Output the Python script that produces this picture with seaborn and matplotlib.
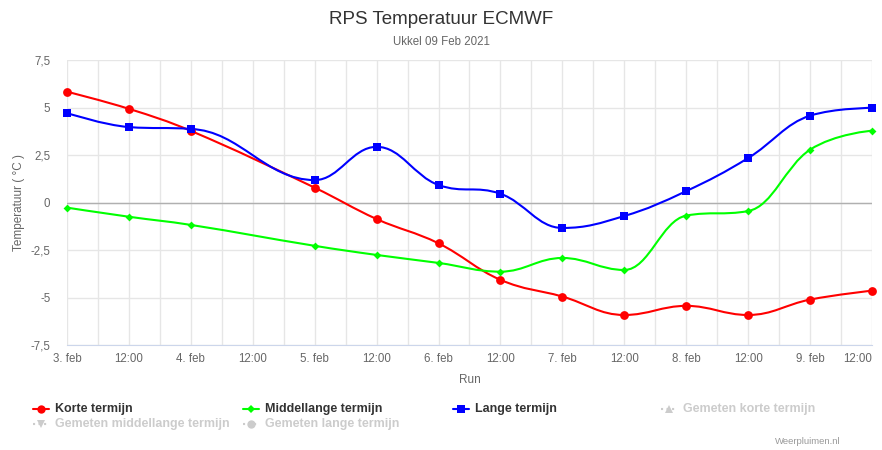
import numpy as np
import pandas as pd
import seaborn as sns
import matplotlib.pyplot as plt
from matplotlib.path import Path
from matplotlib.patches import PathPatch
from matplotlib.lines import Line2D

# Data, 12-hourly runs from 3 feb 00:00
hours = [0, 12, 24, 36, 48, 60, 72, 84, 96, 108, 120, 132, 144, 156]
tick_labels = ["3. feb", "12:00", "4. feb", "12:00", "5. feb", "12:00", "6. feb",
               "12:00", "7. feb", "12:00", "8. feb", "12:00", "9. feb", "12:00"]
korte = [5.83, 4.93, 3.77, None, 0.78, -0.87, -2.15, -4.07, -4.95, -5.92, -5.44, -5.92, -5.11, -4.64]
middel = [-0.27, -0.75, -1.18, None, -2.28, -2.76, -3.18, -3.64, -2.92, -3.55, -0.69, -0.45, 2.78, 3.78]
lange = [4.71, 3.97, 3.87, None, 1.18, 2.93, 0.92, 0.46, -1.34, -0.71, 0.60, 2.34, 4.57, 4.98]

y_ticks = [-7.5, -5, -2.5, 0, 2.5, 5, 7.5]
y_tick_labels = ["-7,5", "-5", "-2,5", "0", "2,5", "5", "7,5"]

series = [
    ("Korte termijn", korte, "#ff0000", "o", 40),
    ("Middellange termijn", middel, "#00ff00", "D", 16),
    ("Lange termijn", lange, "#0000ff", "s", 40),
]
hidden = [("Gemeten korte termijn", "^"), ("Gemeten middellange termijn", "v"),
          ("Gemeten lange termijn", "o")]

sns.set_style("white")
plt.rcParams["font.family"] = ["Liberation Sans", "DejaVu Sans"]


def spline_path(xs, ys, smoothing=1.5):
    # Highcharts-style spline: cubic bezier control points per segment
    denom = smoothing + 1
    n = len(xs)
    verts = [(xs[0], ys[0])]
    codes = [Path.MOVETO]
    right = [None] * n
    left = [None] * n
    for i in range(1, n - 1):
        px, py = xs[i], ys[i]
        lx, ly = xs[i - 1], ys[i - 1]
        nx, ny = xs[i + 1], ys[i + 1]
        lcx = (smoothing * px + lx) / denom
        lcy = (smoothing * py + ly) / denom
        rcx = (smoothing * px + nx) / denom
        rcy = (smoothing * py + ny) / denom
        if rcx != lcx:
            corr = (rcy - lcy) * (rcx - px) / (rcx - lcx) + py - rcy
            lcy += corr
            rcy += corr
        if lcy > ly and lcy > py:
            lcy = max(ly, py)
            rcy = 2 * py - lcy
        elif lcy < ly and lcy < py:
            lcy = min(ly, py)
            rcy = 2 * py - lcy
        if rcy > ny and rcy > py:
            rcy = max(ny, py)
            lcy = 2 * py - rcy
        elif rcy < ny and rcy < py:
            rcy = min(ny, py)
            lcy = 2 * py - rcy
        left[i] = (lcx, lcy)
        right[i] = (rcx, rcy)
    for i in range(1, n):
        c1 = right[i - 1] if right[i - 1] is not None else (xs[i - 1], ys[i - 1])
        c2 = left[i] if left[i] is not None else (xs[i], ys[i])
        verts += [c1, c2, (xs[i], ys[i])]
        codes += [Path.CURVE4] * 3
    return Path(verts, codes)


fig = plt.figure(figsize=(8.82, 4.5), dpi=100)
ax = fig.add_axes([67 / 882, 1 - 345 / 450, (872 - 67) / 882, (345 - 60) / 450])

for name, vals, color, marker, size in series:
    df = pd.DataFrame({"t": hours, "v": vals}).dropna()
    path = spline_path(df["t"].tolist(), df["v"].tolist())
    ax.add_patch(PathPatch(path, facecolor="none", edgecolor=color, lw=1.5, zorder=3))
    sns.scatterplot(data=df, x="t", y="v", marker=marker, s=size, color=color,
                    edgecolor=color, linewidth=0, ax=ax, zorder=4, legend=False,
                    clip_on=False)

ax.set_xlim(0, 156)
ax.set_ylim(-7.5, 7.5)
ax.set_xticks(hours)
ax.set_xticklabels(tick_labels)
ax.get_xticklabels()[-1].set_horizontalalignment("right")
ax.set_xticks(np.arange(6, 156, 12), minor=True)
ax.set_yticks(y_ticks)
ax.set_yticklabels(y_tick_labels)
ax.grid(True, which="both", color="#e6e6e6", lw=1)
ax.axhline(0, color="#b0b0b0", lw=1, zorder=2)
for s in ["top", "right", "left"]:
    ax.spines[s].set_visible(False)
ax.spines["bottom"].set_color("#ccd6eb")
ax.tick_params(axis="both", length=0, labelsize=8.3, colors="#666666")
ax.tick_params(axis="x", pad=6)
ax.tick_params(axis="y", pad=12)
ax.set_xlabel("Run", fontsize=8.5, color="#666666", labelpad=6)
ax.set_ylabel("Temperatuur ( °C )", fontsize=8.5, color="#666666", labelpad=4)

fig.text(0.5, 1 - 19 / 450, "RPS Temperatuur ECMWF", ha="center", va="center",
         fontsize=13.5, color="#333333")
fig.text(0.5, 1 - 42 / 450, "Ukkel 09 Feb 2021", ha="center", va="center",
         fontsize=8.3, color="#666666")

# Legend, laid out like the original
legend_items = [(n, c, m, False) for n, _, c, m, _ in series] + \
               [(n, "#cccccc", m, True) for n, m in hidden]
slots = [(41, 409), (251, 409), (461, 409), (669, 409), (41, 424), (251, 424)]
for (name, color, marker, off), (sx, sy) in zip(legend_items, slots):
    fy = 1 - sy / 450
    fig.add_artist(Line2D([(sx - 8) / 882, (sx + 8) / 882], [fy, fy],
                          color=color, lw=1.5, ls=":" if off else "-"))
    fig.add_artist(Line2D([sx / 882], [fy], marker=marker, color=color,
                          markersize=4 if marker == "D" else 6, markeredgewidth=0))
    fig.text((sx + 14) / 882, fy, name, ha="left", va="center", fontsize=9,
             fontweight="bold", color="#cccccc" if off else "#333333")

fig.text(841 / 882, 1 - 441 / 450, "Weerpluimen.nl", ha="right", va="center",
         fontsize=6.8, color="#999999")

fig.savefig("out.png", dpi=100)
